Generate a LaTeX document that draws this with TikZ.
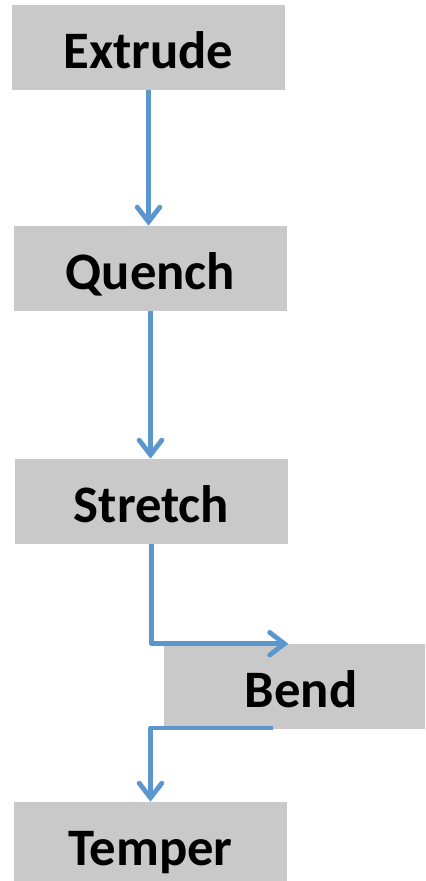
\documentclass[tikz,border=0pt]{standalone}
\usepackage{fontspec}
\setmainfont{Carlito}
\usepackage{tikz}
\usetikzlibrary{arrows.meta}

\definecolor{boxgray}{RGB}{201,201,201}
\definecolor{flowblue}{RGB}{91,151,206}

\begin{document}
\begin{tikzpicture}[x=0.75pt, y=-0.75pt,
  stepbox/.style={rectangle, fill=boxgray, inner sep=0pt,
    minimum width=204.75pt, minimum height=63.75pt,
    text height=32pt, text depth=0pt, font=\fontsize{39.5}{44}\selectfont\bfseries},
  flow/.style={draw=flowblue, line width=3.6pt, line join=round,
    -{Straight Barb[length=11pt, width=17pt, line cap=round]}}]

  % Page size of the reference
  \clip (0,0) rectangle (425,881);
  \useasboundingbox (0,0) rectangle (425,881);

  % Process steps
  \node[stepbox] (extrude) at (148.5,47.5) {Extrude};
  \node[stepbox] (quench) at (150.5,268.5) {Quench};
  \node[stepbox] (stretch) at (151.5,501.5) {Stretch};
  \node[stepbox, minimum width=205.5pt] (bend) at (301,686.5) {Bend};
  \node[stepbox] (temper) at (150.5,844.5) {Temper};

  % Exit point under Bend
  \coordinate (bendout) at (273,728);

  % Connectors
  \draw[flow] (extrude.south) -- (extrude.south |- quench.north);
  \draw[flow] (quench.south) -- (quench.south |- stretch.north);
  \draw[flow] (stretch.south) |- (stretch.east |- bend.north);
  \draw[flow] (bendout) -| (temper.north);

\end{tikzpicture}
\end{document}
